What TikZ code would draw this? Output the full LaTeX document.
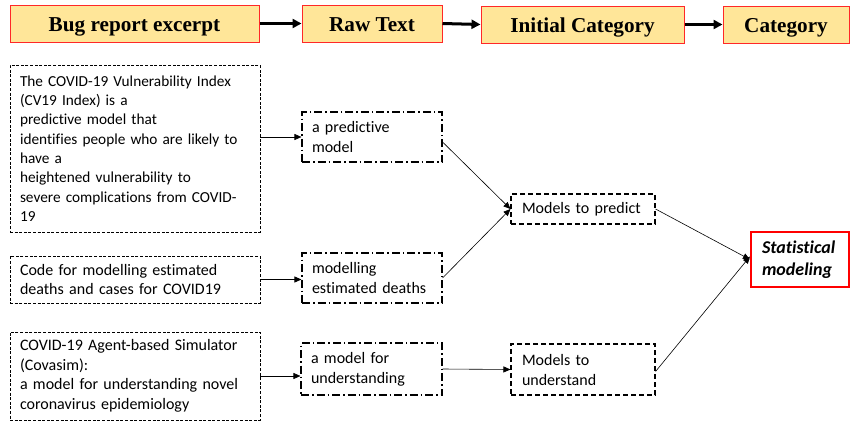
\documentclass[tikz,border=0pt]{standalone}
\usepackage{fontspec}
\setmainfont{Carlito}[Ligatures=NoCommon,RawFeature={-calt}]
\newfontfamily\hdrfont{Liberation Serif}
\usetikzlibrary{arrows.meta}
\definecolor{hdrfill}{RGB}{255,230,153}
\definecolor{hdrline}{RGB}{255,40,40}
\begin{document}
\begin{tikzpicture}[x=1pt,y=-1pt,
  hdr/.style={draw=hdrline,line width=1pt,fill=hdrfill,minimum height=37pt,inner sep=0pt,
    text height=19pt,text depth=4pt,
    font=\hdrfont\bfseries\fontsize{21.2}{24}\selectfont},
  src/.style={draw,line width=0.9pt,dash pattern=on 3pt off 1.6pt,align=left,inner xsep=10pt,inner ysep=0pt,
    font=\fontsize{16}{19.5}\selectfont},
  raw/.style={draw,line width=1.1pt,dash pattern=on 8pt off 3pt on 1.5pt off 3pt,align=left,inner xsep=10pt,inner ysep=0pt,
    font=\fontsize{16}{20}\selectfont},
  cat/.style={draw,line width=1.1pt,dash pattern=on 5pt off 3pt,align=left,inner xsep=11pt,inner ysep=0pt,
    font=\fontsize{16}{20}\selectfont},
  final/.style={draw=red,line width=2.2pt,fill=white,align=left,inner xsep=11pt,inner ysep=0pt,
    font=\fontsize{18}{22}\selectfont\bfseries\itshape},
  bigarrow/.style={line width=3pt,-{Triangle[length=9pt,width=9pt]}},
  conn/.style={line width=0.6pt,-{Triangle[length=7pt,width=6pt]}}
]
\useasboundingbox (0,0) rectangle (851,423);

% header
\node[hdr,minimum width=249pt] (bug) at (134.5,23.5) {Bug report excerpt};
\node[hdr,minimum width=140pt] (rawt) at (372,23.5) {Raw Text};
\node[hdr,minimum width=203pt] (init) at (582.5,24.5) {Initial Category};
\node[hdr,minimum width=126pt] (catg) at (786,24.5) {Category};
\draw[bigarrow] (bug.east) -- (rawt.west);
\draw[bigarrow] (rawt.east) -- (init.west);
\draw[bigarrow] (init.east) -- (catg.west);

% bug report excerpts
\node[src,text width=230pt,minimum height=167pt,font=\fontsize{15.3}{19.3}\selectfont] (b1) at (135,148.5)
 {The COVID-19 Vulnerability Index\\(CV19 Index) is a\\predictive model that\\identifies people who are likely to\\have a\\heightened vulnerability to\\severe complications from COVID-\\19};
\node[src,text width=230pt,minimum height=47pt] (b2) at (135,279.5)
 {Code for modelling estimated\\deaths and cases for COVID19};
\node[src,text width=230pt,minimum height=88pt] (b3) at (135,376)
 {COVID-19 Agent-based Simulator\\(Covasim):\\a model for understanding novel\\coronavirus epidemiology};

% raw text
\node[raw,text width=120pt,minimum height=50pt] (pm) at (372,137) {a predictive\\model};
\node[raw,text width=120pt,minimum height=50pt] (md) at (372,278) {modelling\\estimated deaths};
\node[raw,text width=121pt,minimum height=52pt] (mu) at (371.5,369) {a model for\\understanding};

% initial categories
\node[cat,text width=122pt,minimum height=30pt] (mtp) at (583,209) {Models to predict};
\node[cat,text width=122pt,minimum height=51pt] (mtu) at (583,369.5) {Models to\\understand};

% final category
\node[final,text width=76pt,minimum height=55pt] (stat) at (800,259.5) {Statistical\\modeling};

% connectors
\draw[conn] (b1.east |- pm.west) -- (pm.west);
\draw[conn] (b2.east) -- (b2.east -| md.west);
\draw[conn] (b3.east) -- (b3.east -| mu.west);
\draw[conn] (mu.east) -- (mtu.west);
\draw[conn] ([yshift=-5pt]pm.east) -- (mtp.west);
\draw[conn] (md.east) -- (mtp.west);
\draw[conn] (mtp.east) -- (stat.west);
\draw[conn] ([yshift=-2pt]mtu.east) -- ([yshift=3pt]stat.west);
\end{tikzpicture}
\end{document}
